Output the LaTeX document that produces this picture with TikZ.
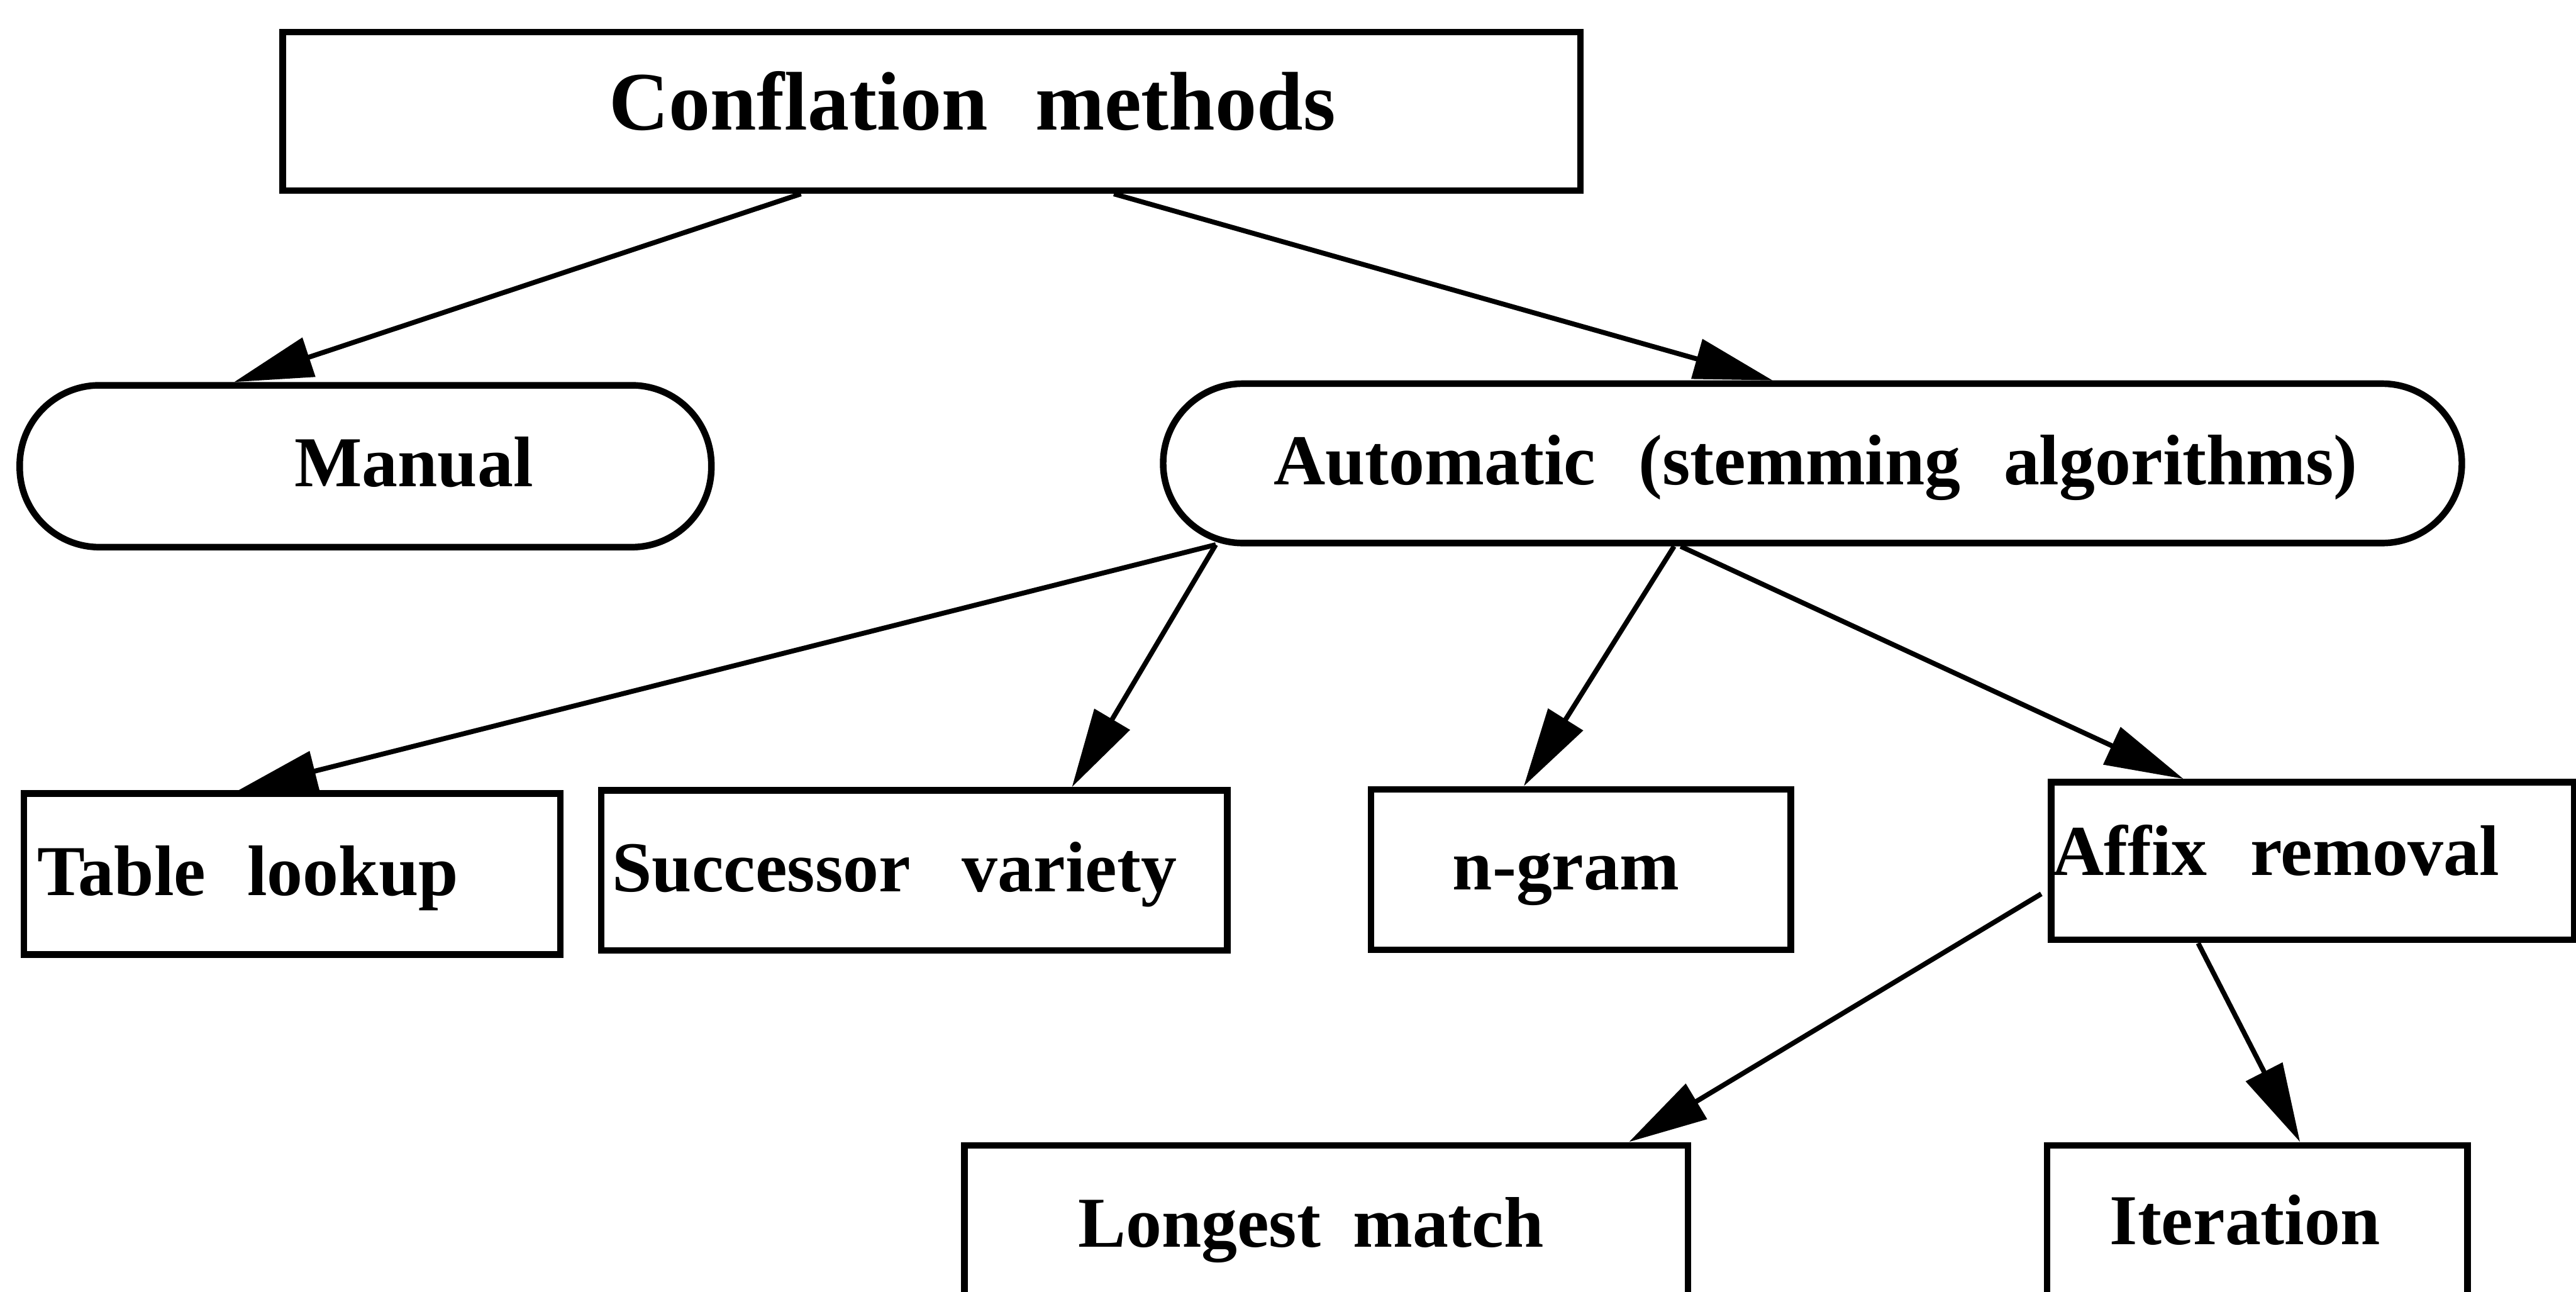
\documentclass[tikz,border=0pt]{standalone}
\usepackage{fontspec}
\setmainfont{Liberation Serif}
\usetikzlibrary{arrows.meta}
% word gap used inside the labels
\newcommand{\wsp}[1][0.6em]{\hspace{#1}}
\tikzset{
  box/.style={draw, line width=0.4mm, inner sep=0pt, anchor=north west},
  pill/.style={box, rounded corners=0.485cm},
  lbl/.style={inner sep=0pt, anchor=base west, font=\fontsize{12.4pt}{14pt}\selectfont\bfseries},
  ttl/.style={lbl, font=\fontsize{14.4pt}{17pt}\selectfont\bfseries},
  link/.style={line width=0.3mm, -{Triangle[length=4.8mm, width=2.45mm]}},
}
\begin{document}
\begin{tikzpicture}
\fill[white] (0,0) rectangle (15.68,-7.86);
\useasboundingbox (0,0) rectangle (15.68,-7.86);

% boxes
\node[box, minimum width=7.90cm, minimum height=0.965cm] (conf) at (1.70,-0.175) {};
\node[pill, minimum width=4.21cm, minimum height=0.985cm] (man) at (0.10,-2.325) {};
\node[pill, minimum width=7.905cm, minimum height=0.97cm] (auto) at (7.06,-2.315) {};
\node[box, minimum width=3.265cm, minimum height=0.98cm] (tbl) at (0.125,-4.81) {};
\node[box, minimum width=3.81cm, minimum height=0.975cm] (suc) at (3.64,-4.79) {};
\node[box, minimum width=2.555cm, minimum height=0.975cm] (ngr) at (8.325,-4.785) {};
\node[box, minimum width=3.185cm, minimum height=0.96cm] (afx) at (12.465,-4.74) {};
\node[box, minimum width=4.405cm, minimum height=1.15cm] (lng) at (5.85,-6.95) {};
\node[box, minimum width=2.56cm, minimum height=1.15cm] (itr) at (12.44,-6.95) {};

% labels
\node[ttl] (conf-t) at (3.70,-0.79) {Conflation\wsp[0.57em]methods};
\node[lbl] (man-t) at (1.785,-2.96) {Manual};
\node[lbl] (auto-t) at (7.745,-2.95) {Automatic\wsp(stemming\wsp algorithms)};
\node[lbl] (tbl-t) at (0.22,-5.45) {Table\wsp[0.58em]lookup};
\node[lbl] (suc-t) at (3.72,-5.425) {Successor\wsp[0.72em]variety};
\node[lbl] (ngr-t) at (8.835,-5.415) {n-gram};
\node[lbl] (afx-t) at (12.485,-5.325) {Affix\wsp[0.6em]removal};
\node[lbl] (lng-t) at (6.555,-7.59) {Longest\wsp[0.45em]match};
\node[lbl] (itr-t) at (12.835,-7.575) {Iteration};

% connectors
\draw[link] ([xshift=3.175cm]conf.south west) -- ([xshift=1.325cm]man.north west);
\draw[link] ([xshift=5.08cm]conf.south west) -- ([xshift=3.73cm]auto.north west);
\draw[link] ([xshift=0.34cm, yshift=0.01cm]auto.south west) -- ([xshift=1.325cm]tbl.north west);
\draw[link] ([xshift=0.34cm, yshift=0.01cm]auto.south west) -- ([xshift=2.885cm]suc.north west);
\draw[link] ([xshift=3.13cm]auto.south west) -- ([xshift=0.95cm]ngr.north west);
\draw[link] ([xshift=3.17cm]auto.south west) -- ([xshift=0.825cm]afx.north west);
\draw[link] ([xshift=-0.04cm, yshift=0.30cm]afx.south west) -- ([xshift=4.065cm]lng.north west);
\draw[link] ([xshift=0.915cm]afx.south west) -- ([xshift=1.56cm]itr.north west);
\end{tikzpicture}
\end{document}
